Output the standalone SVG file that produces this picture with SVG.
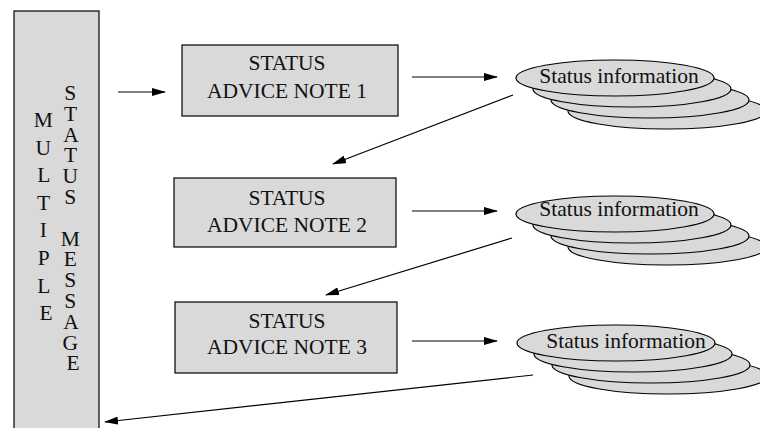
<svg xmlns="http://www.w3.org/2000/svg" width="760" height="428" viewBox="0 0 760 428" font-family="'Liberation Serif', serif">
  <style>
    .shape { fill: #d9d9d9; stroke: #000; stroke-width: 1.2; }
    .label { font-family: 'Liberation Serif', serif; font-size: 21.5px; fill: #111; text-anchor: middle; }
    .link { stroke: #000; stroke-width: 1.2; fill: none; marker-end: url(#arrow); }
  </style>
  <defs>
    <marker id="arrow" viewBox="0 0 14 8" refX="13" refY="4" markerWidth="14" markerHeight="8" markerUnits="userSpaceOnUse" orient="auto">
      <path d="M0,0 L14,4 L0,8 Z" fill="#000"/>
    </marker>
    <!-- one stack of status-information records -->
    <g id="stack-shape">
      <ellipse class="shape" cx="52" cy="33" rx="99" ry="18"/>
      <ellipse class="shape" cx="35" cy="22" rx="99" ry="18"/>
      <ellipse class="shape" cx="17" cy="11" rx="99" ry="18"/>
      <ellipse class="shape" cx="0" cy="0" rx="99" ry="18"/>
    </g>
  </defs>

  <!-- tall message bar on the left -->
  <g id="multiple-status-message">
    <rect class="shape" x="14" y="11" width="85" height="430"/>
    <text class="label" x="46">
      <tspan x="46" y="127">M</tspan>
      <tspan x="46" y="154.6">U</tspan>
      <tspan x="46" y="182.2">L</tspan>
      <tspan x="46" y="209.8">T</tspan>
      <tspan x="46" y="237.4">I</tspan>
      <tspan x="46" y="265">P</tspan>
      <tspan x="46" y="292.6">L</tspan>
      <tspan x="46" y="320.2">E</tspan>
    </text>
    <text class="label" x="73">
      <tspan x="73" y="100">S</tspan>
      <tspan x="73" y="120.8">T</tspan>
      <tspan x="73" y="141.6">A</tspan>
      <tspan x="73" y="162.4">T</tspan>
      <tspan x="73" y="183.2">U</tspan>
      <tspan x="73" y="204">S</tspan>
      <tspan x="73" y="245.6">M</tspan>
      <tspan x="73" y="266.4">E</tspan>
      <tspan x="73" y="287.2">S</tspan>
      <tspan x="73" y="308">S</tspan>
      <tspan x="73" y="328.8">A</tspan>
      <tspan x="73" y="349.6">G</tspan>
      <tspan x="73" y="370.4">E</tspan>
    </text>
  </g>

  <!-- advice notes -->
  <g id="advice-note-1">
    <rect class="shape" x="182" y="45" width="216" height="71"/>
    <text class="label" x="287" y="70">STATUS</text>
    <text class="label" x="287" y="98">ADVICE NOTE 1</text>
  </g>
  <g id="advice-note-2">
    <rect class="shape" x="174" y="178" width="222" height="69"/>
    <text class="label" x="287" y="205">STATUS</text>
    <text class="label" x="287" y="232">ADVICE NOTE 2</text>
  </g>
  <g id="advice-note-3">
    <rect class="shape" x="175" y="302" width="222" height="71"/>
    <text class="label" x="287" y="328">STATUS</text>
    <text class="label" x="287" y="354">ADVICE NOTE 3</text>
  </g>

  <!-- status information stacks -->
  <g id="status-info-1">
    <use href="#stack-shape" x="615" y="78"/>
    <text class="label" x="619" y="83">Status information</text>
  </g>
  <g id="status-info-2">
    <use href="#stack-shape" x="615" y="214"/>
    <text class="label" x="619" y="216">Status information</text>
  </g>
  <g id="status-info-3">
    <use href="#stack-shape" x="616" y="343"/>
    <text class="label" x="626" y="348">Status information</text>
  </g>

  <!-- connectors -->
  <g id="connectors">
    <line class="link" x1="118" y1="92" x2="165" y2="92"/>
    <line class="link" x1="412" y1="77" x2="497" y2="77"/>
    <line class="link" x1="513" y1="95" x2="333" y2="164"/>
    <line class="link" x1="412" y1="211" x2="497" y2="211"/>
    <line class="link" x1="512" y1="238" x2="326" y2="295"/>
    <line class="link" x1="412" y1="341" x2="497" y2="341"/>
    <line class="link" x1="533" y1="375" x2="105" y2="422"/>
  </g>
</svg>
